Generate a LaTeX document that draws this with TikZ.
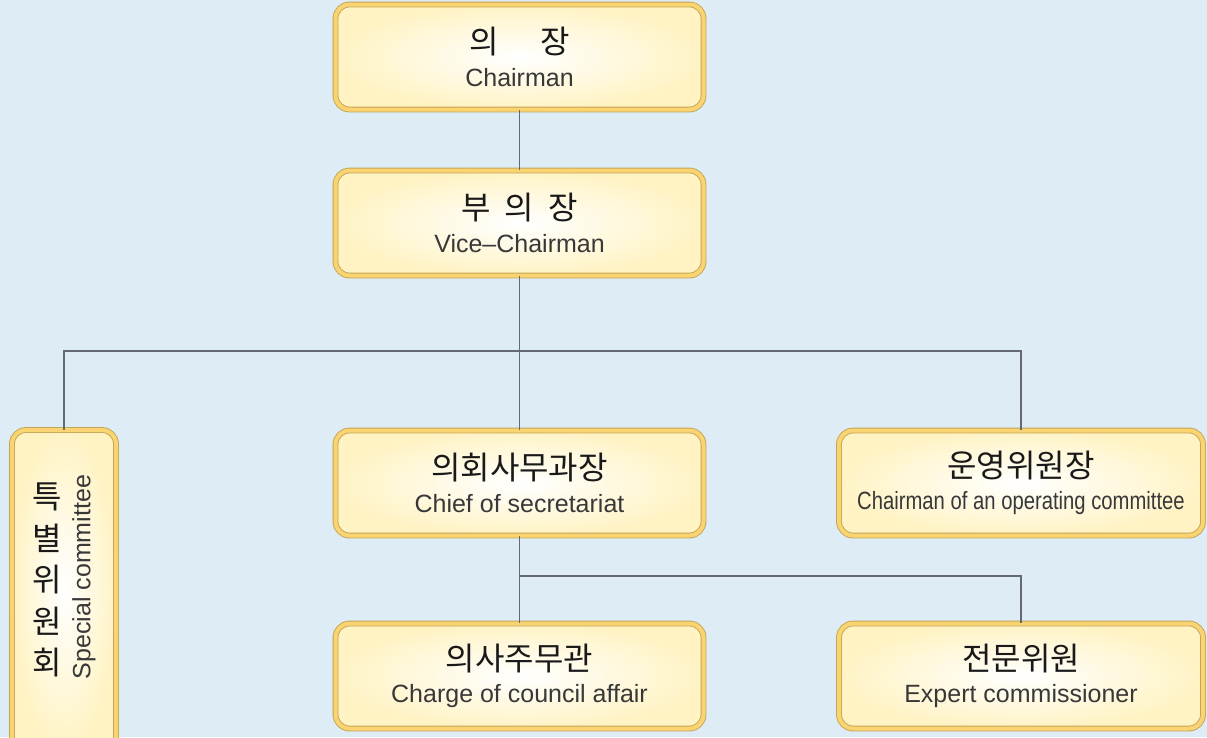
\documentclass[tikz,border=0pt]{standalone}
\usepackage{fontspec}
\usepackage{graphicx}
\newfontfamily\kofont{Noto Sans CJK KR}
\newfontfamily\enfont{Liberation Sans}
\definecolor{skyback}{RGB}{221,236,245}
\definecolor{goldedge}{RGB}{196,164,88}
\definecolor{goldband}{RGB}{250,212,112}
\definecolor{boxcream}{RGB}{255,243,196}
\definecolor{linkgray}{RGB}{100,105,116}
\newcommand{\kor}[1]{{\kofont\fontsize{32}{32}\selectfont\color{black!90}#1}}
\newcommand{\eng}[1]{{\enfont\fontsize{25}{30}\selectfont\color{black!78}#1}}
\tikzset{
  office/.style={draw=goldedge, double=goldband, double distance=4pt, line width=0.9pt,
    rounded corners=14pt, inner color=white, outer color=boxcream,
    minimum width=368pt, minimum height=105pt, align=center, inner sep=0pt},
  link/.style={draw=linkgray, line width=1.2pt}
}
\begin{document}
\begin{tikzpicture}[x=1pt,y=-1pt]
	%background
	\fill[skyback] (0,0) rectangle (1207,737);
	\useasboundingbox (0,0) rectangle (1207,737);
	%offices
	\node[office] (chair) at (519.5,57) {\kor{의\hspace{42pt}장}\\[11pt]\eng{Chairman}};
	\node[office] (vice) at (519.5,223) {\kor{부\hspace{14pt}의\hspace{14pt}장}\\[11pt]\eng{Vice–Chairman}};
	\node[office] (chief) at (519.5,483) {\kor{의회사무과장}\\[11pt]\eng{Chief of secretariat}};
	\node[office, minimum width=364pt] (oper) at (1021,483) {\kor{운영위원장}\\[11pt]\eng{\scalebox{0.81}[1]{Chairman of an operating committee}}};
	\node[office] (charge) at (519.5,676) {\kor{의사주무관}\\[11pt]\eng{Charge of council affair}};
	\node[office, minimum width=364pt] (expert) at (1021,676) {\kor{전문위원}\\[11pt]\eng{Expert commissioner}};
	\node[office, minimum width=104pt, minimum height=320pt] (special) at (64,590) {};
	\node[align=center, inner sep=0pt] (specialko) at (47,580) {\kor{특}\\[12pt]\kor{별}\\[12pt]\kor{위}\\[12pt]\kor{원}\\[12pt]\kor{회}};
	\node[rotate=90, inner sep=0pt] (specialen) at (84,577) {\eng{Special committee}};
	%bars
	\coordinate (upperbar) at (519.5,351);
	\coordinate (lowerbar) at (519.5,576);
	%connectors
	\draw[link] (chair.south) -- (vice.north);
	\draw[link] (vice.south) -- (chief.north);
	\draw[link] (special.north) -- (special.north |- upperbar) -- (upperbar -| oper.north) -- (oper.north);
	\draw[link] (chief.south) -- (charge.north);
	\draw[link] (lowerbar) -| (expert.north);
\end{tikzpicture}
\end{document}
